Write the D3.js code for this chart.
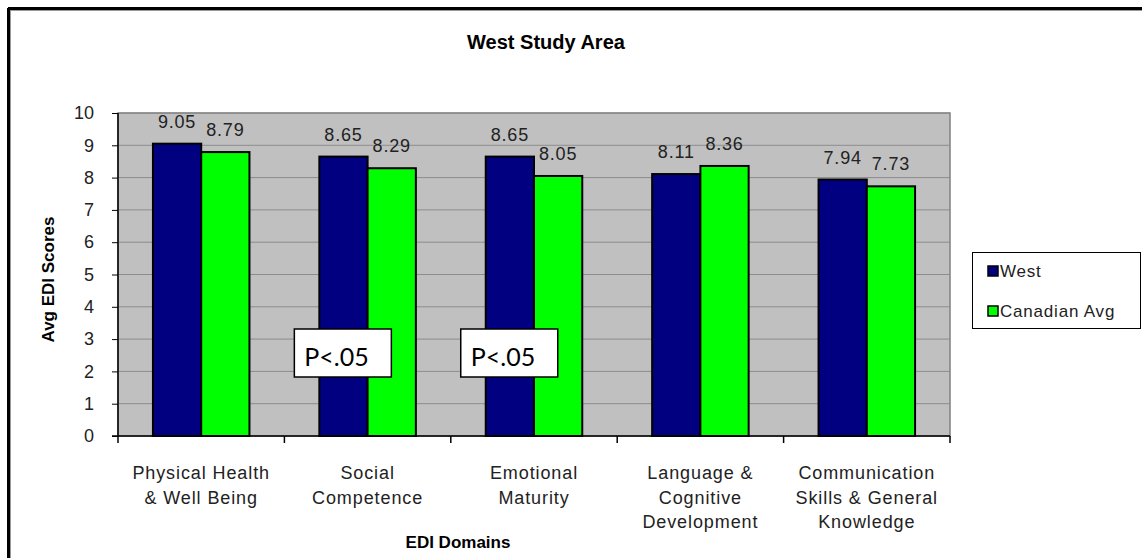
<!DOCTYPE html>
<html><head><meta charset="utf-8">
<script src="https://cdn.jsdelivr.net/npm/d3@7"></script>
<style>
body{margin:0;background:#fff;}
svg text{font-family:"Liberation Sans",Arial,sans-serif;fill:#000;}
</style></head>
<body><svg id="c" width="1142" height="558"></svg>
<script>
const categories = [
  ["Physical Health","& Well Being"],
  ["Social","Competence"],
  ["Emotional","Maturity"],
  ["Language &","Cognitive","Development"],
  ["Communication","Skills & General","Knowledge"]
];
const seriesNames = ["West","Canadian Avg"];
const westValues = [9.05, 8.65, 8.65, 8.11, 7.94];
const canadianValues = [8.79, 8.29, 8.05, 8.36, 7.73];
const seriesColors = ["#000080","#00FF00"];
const yTicks = [0,1,2,3,4,5,6,7,8,9,10];
const annotations = [{cat:1, text:"P<.05"},{cat:2, text:"P<.05"}];

const svg = d3.select("#c");
const L=118, R=950, T=113, B=436;
const catKeys = categories.map((c,i)=>i);
const x0 = d3.scaleBand().domain(catKeys).range([L,R]).paddingInner(0.42).paddingOuter(0.21);
const x1 = d3.scaleBand().domain([0,1]).range([0,x0.bandwidth()]);
const y = d3.scaleLinear().domain([0,10]).range([B,T]);

// outer border
svg.append("line").attr("x1",8.5).attr("x2",8.5).attr("y1",8).attr("y2",558).attr("stroke","#000").attr("stroke-width",3);
svg.append("line").attr("x1",8).attr("x2",1142).attr("y1",8.5).attr("y2",8.5).attr("stroke","#000").attr("stroke-width",3);
svg.append("line").attr("x1",10.5).attr("x2",10.5).attr("y1",10).attr("y2",558).attr("stroke","#999").attr("stroke-width",1);
svg.append("line").attr("x1",10).attr("x2",1142).attr("y1",10.5).attr("y2",10.5).attr("stroke","#999").attr("stroke-width",1);

// title
svg.append("text").attr("x",546).attr("y",49).attr("text-anchor","middle")
  .style("font-size","20px").style("font-weight","bold").text("West Study Area");

// plot bg
svg.append("rect").attr("x",L).attr("y",T).attr("width",R-L).attr("height",B-T)
  .attr("fill","#C0C0C0").attr("stroke","#808080").attr("stroke-width",1.5);

// gridlines
svg.append("g").selectAll("line").data(yTicks.filter(d=>d>0)).join("line")
  .attr("x1",L).attr("x2",R).attr("y1",d=>y(d)).attr("y2",d=>y(d))
  .attr("stroke","#8c8c8c").attr("stroke-width",1);

// bars
const groups = svg.append("g").selectAll("g").data(catKeys).join("g")
  .attr("transform",i=>`translate(${x0(i)},0)`);
const vals = [westValues, canadianValues];
groups.selectAll("rect").data(i=>[0,1].map(s=>({s,v:vals[s][i]}))).join("rect")
  .attr("x",d=>x1(d.s)).attr("y",d=>y(d.v)).attr("width",x1.bandwidth()).attr("height",d=>B-y(d.v))
  .attr("fill",d=>seriesColors[d.s]).attr("stroke","#000").attr("stroke-width",2);
groups.selectAll("text").data(i=>[0,1].map(s=>({s,v:vals[s][i]}))).join("text")
  .attr("x",d=>x1(d.s)+x1.bandwidth()/2).attr("y",d=>y(d.v)-16)
  .attr("text-anchor","middle").style("font-size","18px").style("letter-spacing","0.8px").style("fill","#222")
  .text(d=>d.v.toFixed(2));

// y axis
const yAxis = svg.append("g").attr("transform",`translate(${L},0)`)
  .call(d3.axisLeft(y).tickValues(yTicks).tickSize(6).tickPadding(18).tickFormat(d3.format("d")));
yAxis.select(".domain").attr("stroke","#000").attr("stroke-width",1.5).attr("d",`M0,${T}V${B}`);
yAxis.selectAll(".tick line").attr("stroke","#000");
yAxis.selectAll(".tick text").style("font-size","18px").style("font-family","Liberation Sans, Arial").style("fill","#222");

// x axis
const boundaries = d3.range(categories.length+1).map(i=>L+i*x0.step());
const xg = svg.append("g");
xg.append("line").attr("x1",L-6).attr("x2",R).attr("y1",B).attr("y2",B).attr("stroke","#000").attr("stroke-width",1.5);
xg.selectAll("line.t").data(boundaries).join("line").attr("class","t")
  .attr("x1",d=>d).attr("x2",d=>d).attr("y1",B).attr("y2",B+7).attr("stroke","#000").attr("stroke-width",1.5);
const catLabels = svg.append("g").selectAll("text").data(catKeys).join("text")
  .attr("x",i=>x0(i)+x0.bandwidth()/2).attr("y",479)
  .attr("text-anchor","middle").style("font-size","18px").style("letter-spacing","0.9px").style("fill","#222");
catLabels.selectAll("tspan").data(i=>categories[i]).join("tspan")
  .attr("x",function(){return this.parentNode.getAttribute("x");})
  .attr("dy",(d,j)=>j===0?0:24.5).text(d=>d);

// axis titles
svg.append("text").attr("x",458).attr("y",548).attr("text-anchor","middle")
  .style("font-size","17px").style("font-weight","bold").text("EDI Domains");
svg.append("text").attr("transform",`translate(54,${(T+B)/2+5}) rotate(-90)`).attr("text-anchor","middle")
  .style("font-size","17px").style("font-weight","bold").text("Avg EDI Scores");

// annotations
annotations.forEach(a=>{
  const bx = x0(a.cat)-25, by = 329;
  svg.append("rect").attr("x",bx).attr("y",by).attr("width",97).attr("height",48)
    .attr("fill","#fff").attr("stroke","#000").attr("stroke-width",1.5);
  svg.append("text").attr("x",bx+10).attr("y",by+37).style("font-family","Lato, 'Open Sans', sans-serif")
    .style("font-size","25px").text(a.text);
});

// legend
const lg = svg.append("g");
lg.append("rect").attr("x",972.5).attr("y",252.5).attr("width",168).attr("height",76)
  .attr("fill","#fff").attr("stroke","#000").attr("stroke-width",1);
seriesNames.forEach((n,i)=>{
  const cy = 271 + i*40;
  lg.append("rect").attr("x",988).attr("y",cy-5).attr("width",10).attr("height",10)
    .attr("fill",seriesColors[i]).attr("stroke","#000").attr("stroke-width",1.5);
  lg.append("text").attr("x",1000).attr("y",cy+6).style("font-size","17px").style("letter-spacing","0.8px").style("fill","#222").text(n);
});
</script></body></html>
